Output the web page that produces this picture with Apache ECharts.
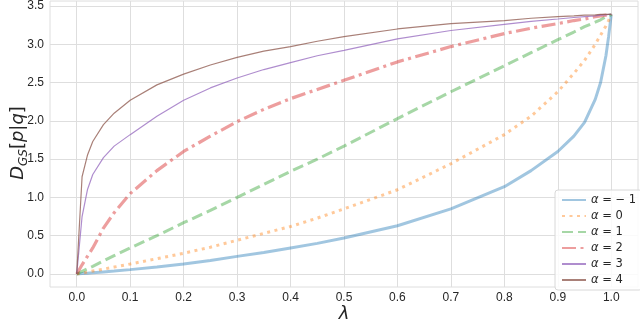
<!DOCTYPE html>
<html lang="en">
<head>
  <meta charset="UTF-8">
  <title>D_GS vs lambda</title>
  <script src="https://cdn.jsdelivr.net/npm/echarts@6.0.0/dist/echarts.min.js"></script>
  <style>
    html, body { margin: 0; padding: 0; background: #fff; }
  </style>
</head>
<body>
  <div id="chart" style="width: 640px;height: 324px;"></div>

  <script type="text/javascript">
    // lambda sample points shared by every curve
    const lambdas = [0, 0.01, 0.02, 0.03, 0.05, 0.07, 0.1, 0.15, 0.2, 0.25, 0.3, 0.35, 0.4, 0.45,
      0.5, 0.6, 0.7, 0.8, 0.85, 0.9, 0.93, 0.95, 0.97, 0.98, 0.99, 0.995, 1];

    const alphaNeg1 = [0, 0.005, 0.011, 0.016, 0.027, 0.038, 0.057, 0.09, 0.13, 0.175, 0.23, 0.28, 0.34, 0.40,
      0.47, 0.63, 0.85, 1.14, 1.35, 1.60, 1.80, 1.98, 2.28, 2.50, 2.85, 3.10, 3.39];
    const alpha0 = [0, 0.012, 0.025, 0.038, 0.063, 0.09, 0.13, 0.2, 0.27, 0.35, 0.44, 0.53, 0.62, 0.73,
      0.85, 1.10, 1.44, 1.82, 2.06, 2.38, 2.62, 2.79, 3.00, 3.12, 3.24, 3.31, 3.39];
    const alpha1 = [0, 0.034, 0.068, 0.10, 0.17, 0.24, 0.34, 0.50, 0.67, 0.83, 1.00, 1.17, 1.34, 1.50,
      1.67, 2.03, 2.38, 2.72, 2.89, 3.06, 3.16, 3.23, 3.29, 3.32, 3.36, 3.37, 3.39];
    const alpha2 = [0, 0.12, 0.23, 0.34, 0.60, 0.80, 1.05, 1.35, 1.60, 1.80, 1.99, 2.15, 2.29, 2.41,
      2.53, 2.77, 2.97, 3.14, 3.21, 3.27, 3.31, 3.33, 3.36, 3.37, 3.38, 3.385, 3.39];
    const alpha3 = [0, 0.75, 1.10, 1.30, 1.52, 1.67, 1.82, 2.06, 2.27, 2.43, 2.56, 2.67, 2.76, 2.85,
      2.92, 3.07, 3.18, 3.26, 3.30, 3.33, 3.35, 3.36, 3.37, 3.38, 3.385, 3.39, 3.39];
    const alpha4 = [0, 1.27, 1.55, 1.73, 1.95, 2.10, 2.27, 2.47, 2.61, 2.73, 2.83, 2.91, 2.97, 3.04,
      3.10, 3.20, 3.27, 3.31, 3.34, 3.36, 3.37, 3.38, 3.385, 3.39, 3.39, 3.39, 3.39];

    const alphaLabels = ['− 1', '0', '1', '2', '3', '4'];
    const seriesValues = [alphaNeg1, alpha0, alpha1, alpha2, alpha3, alpha4];

    const xTicks = [0, 0.1, 0.2, 0.3, 0.4, 0.5, 0.6, 0.7, 0.8, 0.9, 1.0];
    const yTicks = [0, 0.5, 1.0, 1.5, 2.0, 2.5, 3.0, 3.5];

    const styles = [
      { color: '#1f77b4', width: 3, type: 'solid', opacity: 0.42 },
      { color: '#ff7f0e', width: 3, type: [3, 4.5], opacity: 0.42 },
      { color: '#2ca02c', width: 3, type: [11, 5], opacity: 0.42 },
      { color: '#d62728', width: 3.2, type: [14, 4.5, 3, 4.5], opacity: 0.45 },
      { color: '#9467bd', width: 1.2, type: 'solid', opacity: 0.75 },
      { color: '#8c564b', width: 1.2, type: 'solid', opacity: 0.75 },
    ];

    const font = '"Liberation Sans", Arial, sans-serif';
    const mathFont = '"DejaVu Sans", sans-serif';
    const gridColor = '#dedede';

    const myChart = echarts.init(document.getElementById('chart'));

    const series = seriesValues.map((vals, i) => ({
      name: 'α = ' + alphaLabels[i],
      type: 'line',
      showSymbol: false,
      symbol: 'none',
      smooth: false,
      data: lambdas.map((l, j) => [l, vals[j]]),
      lineStyle: styles[i],
      itemStyle: { color: styles[i].color },
    }));

    const option = {
      animation: false,
      backgroundColor: '#fff',
      grid: {
        left: 50, right: 2, top: 1, bottom: 37,
        show: true, borderColor: gridColor, borderWidth: 1,
      },
      xAxis: {
        type: 'value',
        min: -0.05,
        max: 1.05,
        axisLine: { show: false },
        axisTick: { show: false, customValues: xTicks },
        axisLabel: {
          customValues: xTicks,
          formatter: v => v.toFixed(1),
          color: '#262626', fontSize: 12, fontFamily: font, margin: 5,
        },
        splitLine: { show: true, lineStyle: { color: gridColor, width: 1 } },
      },
      yAxis: {
        type: 'value',
        min: -0.17,
        max: 3.565,
        axisLine: { show: false },
        axisTick: { show: false, customValues: yTicks },
        axisLabel: {
          customValues: yTicks,
          formatter: v => v.toFixed(1),
          color: '#262626', fontSize: 12, fontFamily: font, margin: 6,
        },
        splitLine: { show: true, lineStyle: { color: gridColor, width: 1 } },
      },
      legend: {
        orient: 'vertical',
        left: 555,
        top: 190,
        padding: [4, 6, 4, 6],
        itemGap: 4,
        itemWidth: 24,
        itemHeight: 10,
        itemStyle: { opacity: 0 },
        backgroundColor: 'rgba(255,255,255,0.85)',
        borderColor: '#d8d8d8',
        borderWidth: 1,
        borderRadius: 3,
        formatter: name => '{i|α}{t| = ' + name.split('= ')[1] + '}',
        textStyle: {
          color: '#262626',
          fontFamily: font,
          fontSize: 11,
          rich: {
            i: { fontStyle: 'italic', fontFamily: mathFont, fontSize: 11.5, color: '#262626' },
            t: { fontFamily: mathFont, fontSize: 11.5, color: '#262626' },
          },
        },
      },
      graphic: [
        {
          type: 'text',
          x: 18, y: 143,
          rotation: Math.PI / 2,
          style: {
            text: '{d|D}{s|GS}{n|[}{i|p}{n||}{i|q}{n|]}',
            align: 'center',
            verticalAlign: 'middle',
            fill: '#262626',
            rich: {
              d: { fontStyle: 'italic', fontFamily: mathFont, fontSize: 18, lineHeight: 24, verticalAlign: 'middle' },
              s: { fontStyle: 'italic', fontFamily: mathFont, fontSize: 12, lineHeight: 24, verticalAlign: 'bottom' },
              n: { fontFamily: mathFont, fontSize: 18, lineHeight: 24, verticalAlign: 'middle' },
              i: { fontStyle: 'italic', fontFamily: mathFont, fontSize: 18, lineHeight: 24, verticalAlign: 'middle' },
            },
          },
        },
        {
          type: 'text',
          x: 344, y: 314,
          style: {
            text: 'λ',
            align: 'center',
            verticalAlign: 'middle',
            fill: '#262626',
            font: 'italic 18px "DejaVu Sans", sans-serif',
          },
        },
      ],
      series,
    };
    myChart.setOption(option);
  </script>
</body>
</html>
